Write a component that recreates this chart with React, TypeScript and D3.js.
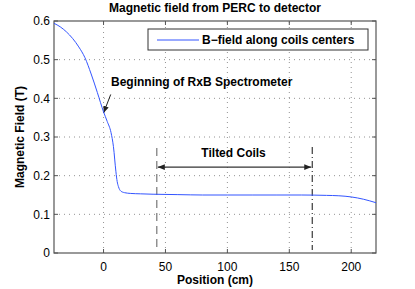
import React, { useEffect, useRef } from "react";
import * as d3 from "d3";

// B-field along the coil centers
const positions = [-40, -35, -30, -25, -20, -15, -10, -5, 0, 3, 6, 8, 10, 11, 12, 14, 17, 22, 30, 40, 60, 80, 100, 120, 140, 160, 180, 190, 200, 210, 220];
const fields = [0.594, 0.585, 0.572, 0.555, 0.533, 0.505, 0.463, 0.415, 0.365, 0.34, 0.312, 0.275, 0.21, 0.185, 0.172, 0.16, 0.156, 0.154, 0.153, 0.152, 0.151, 0.15, 0.15, 0.15, 0.15, 0.15, 0.149, 0.148, 0.145, 0.139, 0.13];

const xTicks = [0, 50, 100, 150, 200];
const yTicks = [0, 0.1, 0.2, 0.3, 0.4, 0.5, 0.6];

const title = "Magnetic field from PERC to detector";
const xLabel = "Position (cm)";
const yLabel = "Magnetic Field (T)";
const legendLabel = "B\u2212field along coils centers";

// annotations (data coords)
const coilStart = 43;
const coilEnd = 168.5;
const coilsLabel = "Tilted Coils";
const spectroLabel = "Beginning of RxB Spectrometer";

const App = () => {
  const ref = useRef<SVGSVGElement>(null);

  useEffect(() => {
    const width = 415;
    const height = 289;
    const m = { left: 54, right: 39, top: 21, bottom: 36 };
    const svg = d3.select(ref.current);
    svg.selectAll("*").remove();

    const x = d3.scaleLinear().domain([-40, 220]).range([m.left, width - m.right]);
    const y = d3.scaleLinear().domain([0, 0.6]).range([height - m.bottom, m.top]);
    const font = "'Liberation Sans', Arial, Helvetica, sans-serif";

    svg.append("rect").attr("width", width).attr("height", height).attr("fill", "white");

    // grid
    const grid = svg.append("g").attr("stroke", "#777").attr("stroke-width", 0.8).attr("stroke-dasharray", "1,4");
    grid.selectAll("line.gx").data(xTicks).join("line")
      .attr("x1", (d) => x(d)).attr("x2", (d) => x(d))
      .attr("y1", y(0)).attr("y2", y(0.6));
    grid.selectAll("line.gy").data(yTicks.slice(1, -1)).join("line")
      .attr("x1", x(-40)).attr("x2", x(220))
      .attr("y1", (d) => y(d)).attr("y2", (d) => y(d));

    // axes box + inward ticks
    const tk = 4;
    const axes = svg.append("g").attr("stroke", "#555").attr("fill", "none");
    axes.append("rect")
      .attr("x", x(-40)).attr("y", y(0.6))
      .attr("width", x(220) - x(-40)).attr("height", y(0) - y(0.6))
      .attr("stroke-width", 1.2);
    xTicks.forEach((t) => {
      axes.append("line").attr("x1", x(t)).attr("x2", x(t)).attr("y1", y(0)).attr("y2", y(0) - tk);
      axes.append("line").attr("x1", x(t)).attr("x2", x(t)).attr("y1", y(0.6)).attr("y2", y(0.6) + tk);
    });
    yTicks.forEach((t) => {
      axes.append("line").attr("x1", x(-40)).attr("x2", x(-40) + tk).attr("y1", y(t)).attr("y2", y(t));
      axes.append("line").attr("x1", x(220)).attr("x2", x(220) - tk).attr("y1", y(t)).attr("y2", y(t));
    });

    // tick labels
    svg.append("g").selectAll("text").data(xTicks).join("text")
      .attr("x", (d) => x(d)).attr("y", y(0) + 18)
      .attr("text-anchor", "middle")
      .attr("font-family", font).attr("font-size", 12)
      .text((d) => d3.format("d")(d));
    svg.append("g").selectAll("text").data(yTicks).join("text")
      .attr("x", x(-40) - 4).attr("y", (d) => y(d)).attr("dy", "0.36em")
      .attr("text-anchor", "end")
      .attr("font-family", font).attr("font-size", 12)
      .text((d) => (d === 0 ? "0" : d3.format(".1f")(d)));

    // labels
    svg.append("text").attr("x", 215).attr("y", 12).attr("text-anchor", "middle")
      .attr("font-family", font).attr("font-size", 12).attr("font-weight", "bold").text(title);
    svg.append("text").attr("x", 215).attr("y", 284).attr("text-anchor", "middle")
      .attr("font-family", font).attr("font-size", 12).attr("font-weight", "bold").text(xLabel);
    svg.append("text").attr("transform", `translate(24,${(y(0) + y(0.6)) / 2}) rotate(-90)`)
      .attr("text-anchor", "middle")
      .attr("font-family", font).attr("font-size", 12).attr("font-weight", "bold").text(yLabel);

    // coil markers
    svg.append("line").attr("x1", x(coilStart)).attr("x2", x(coilStart))
      .attr("y1", 148).attr("y2", 250)
      .attr("stroke", "#777").attr("stroke-width", 1.2).attr("stroke-dasharray", "8,5");
    svg.append("line").attr("x1", x(coilEnd)).attr("x2", x(coilEnd))
      .attr("y1", 147).attr("y2", 250)
      .attr("stroke", "#111").attr("stroke-width", 1).attr("stroke-dasharray", "7,3,1,3");

    // arrowheads
    const defs = svg.append("defs");
    defs.append("marker").attr("id", "ah").attr("viewBox", "0 0 10 10")
      .attr("refX", 10).attr("refY", 5).attr("markerWidth", 7).attr("markerHeight", 7)
      .attr("markerUnits", "userSpaceOnUse").attr("orient", "auto-start-reverse")
      .append("path").attr("d", "M0,1 L10,5 L0,9 Z").attr("fill", "#222");

    svg.append("line").attr("x1", x(coilStart) + 1).attr("x2", x(coilEnd) - 1)
      .attr("y1", y(0.222)).attr("y2", y(0.222))
      .attr("stroke", "#333").attr("stroke-width", 1.2)
      .attr("marker-start", "url(#ah)").attr("marker-end", "url(#ah)");
    svg.append("text").attr("x", x(105)).attr("y", y(0.248)).attr("text-anchor", "middle")
      .attr("font-family", font).attr("font-size", 12).attr("font-weight", "bold").text(coilsLabel);

    svg.append("line").attr("x1", x(5.8)).attr("y1", y(0.41))
      .attr("x2", x(0)).attr("y2", y(0.362))
      .attr("stroke", "#222").attr("stroke-width", 1)
      .attr("marker-end", "url(#ah)");
    svg.append("text").attr("x", x(6)).attr("y", y(0.431))
      .attr("font-family", font).attr("font-size", 12).attr("font-weight", "bold").text(spectroLabel);

    // curve
    const line = d3.line<number>()
      .x((d, i) => x(positions[i]))
      .y((d) => y(d))
      .curve(d3.curveMonotoneX);
    svg.append("path").datum(fields).attr("d", line)
      .attr("fill", "none").attr("stroke", "#3355ff").attr("stroke-width", 1);

    // legend
    const lg = svg.append("g").attr("transform", "translate(148,29)");
    lg.append("rect").attr("width", 220).attr("height", 21)
      .attr("fill", "white").attr("stroke", "#333").attr("stroke-width", 1);
    lg.append("line").attr("x1", 9).attr("x2", 51).attr("y1", 11).attr("y2", 11)
      .attr("stroke", "#3355ff").attr("stroke-width", 1);
    lg.append("text").attr("x", 54).attr("y", 15)
      .attr("font-family", font).attr("font-size", 12).attr("font-weight", "bold").text(legendLabel);
  }, []);

  return <svg ref={ref} width={415} height={289} style={{ position: "absolute", left: 0, top: 0 }} />;
};

export default App;
